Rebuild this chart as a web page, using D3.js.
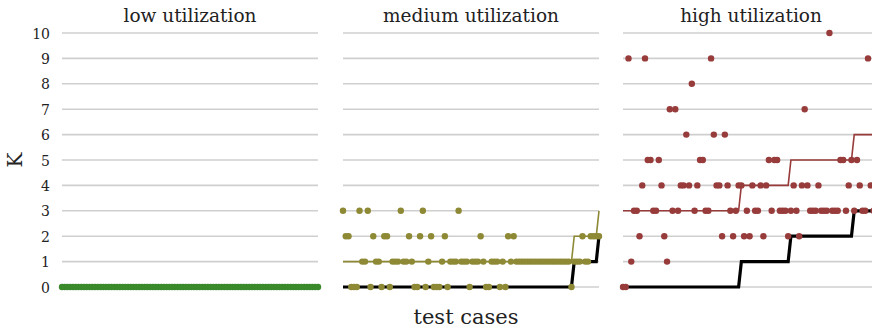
<!DOCTYPE html>
<html>
<head>
<meta charset="utf-8">
<script src="https://cdn.jsdelivr.net/npm/d3@7/dist/d3.min.js"></script>
<style>
  html, body { margin: 0; padding: 0; background: #fff; }
  svg { display: block; }
  text { font-family: "DejaVu Serif", serif; fill: #222; }
</style>
</head>
<body>
<svg id="chart" width="872" height="331"></svg>
<script>
// ---- data ----
const panelTitles = ["low utilization", "medium utilization", "high utilization"];
const yTicks = [0, 1, 2, 3, 4, 5, 6, 7, 8, 9, 10];
const seriesColors = ["#3a8a2b", "#8e8935", "#983b3b"];

// K found for each test case (dots)
const lowK = [0,0,0,0,0,0,0,0,0,0, 0,0,0,0,0,0,0,0,0,0, 0,0,0,0,0,0,0,0,0,0,
              0,0,0,0,0,0,0,0,0,0, 0,0,0,0,0,0,0,0,0,0, 0,0,0,0,0,0,0,0,0,0,
              0,0,0,0,0,0,0,0,0,0, 0,0,0,0,0,0,0,0,0,0, 0,0,0,0,0,0,0,0,0,0, 0,0,0,0];
const lowUpper = [0,0,0,0,0,0,0,0,0,0, 0,0,0,0,0,0,0,0,0,0, 0,0,0,0,0,0,0,0,0,0,
              0,0,0,0,0,0,0,0,0,0, 0,0,0,0,0,0,0,0,0,0, 0,0,0,0,0,0,0,0,0,0,
              0,0,0,0,0,0,0,0,0,0, 0,0,0,0,0,0,0,0,0,0, 0,0,0,0,0,0,0,0,0,0, 0,0,0,0];
const lowLower = [0,0,0,0,0,0,0,0,0,0, 0,0,0,0,0,0,0,0,0,0, 0,0,0,0,0,0,0,0,0,0,
              0,0,0,0,0,0,0,0,0,0, 0,0,0,0,0,0,0,0,0,0, 0,0,0,0,0,0,0,0,0,0,
              0,0,0,0,0,0,0,0,0,0, 0,0,0,0,0,0,0,0,0,0, 0,0,0,0,0,0,0,0,0,0, 0,0,0,0];

const mediumK = [3,2,2,0,0,0,3,1,1,3, 0,2,1,1,0,2,2,0,1,1, 1,3,1,1,2,1,0,0,2,3,
                 0,1,2,0,0,0,1,2,0,1, 1,1,3,1,1,1,0,1,1,1, 2,1,0,0,1,1,1,0,1,0,
                 2,1,2,1,1,1,1,1,1,1, 1,1,1,1,1,1,1,1,1,1, 1,1,1,0,1,1,1,2,1,1, 2,2,2,2];
const mediumUpper = [1,1,1,1,1,1,1,1,1,1, 1,1,1,1,1,1,1,1,1,1, 1,1,1,1,1,1,1,1,1,1,
                 1,1,1,1,1,1,1,1,1,1, 1,1,1,1,1,1,1,1,1,1, 1,1,1,1,1,1,1,1,1,1,
                 1,1,1,1,1,1,1,1,1,1, 1,1,1,1,1,1,1,1,1,1, 1,1,1,1,2,2,2,2,2,2, 2,2,2,3];
const mediumLower = [0,0,0,0,0,0,0,0,0,0, 0,0,0,0,0,0,0,0,0,0, 0,0,0,0,0,0,0,0,0,0,
                 0,0,0,0,0,0,0,0,0,0, 0,0,0,0,0,0,0,0,0,0, 0,0,0,0,0,0,0,0,0,0,
                 0,0,0,0,0,0,0,0,0,0, 0,0,0,0,0,0,0,0,0,0, 0,0,0,0,1,1,1,1,1,1, 1,1,1,2];

const highK = [0,0,9,1,3,3,2,4,9,5, 5,3,3,5,4,2,1,7,3,7, 3,4,4,6,4,8,3,4,5,5,
               3,3,9,6,4,4,2,6,4,3, 2,3,4,4,2,3,2,4,3,3, 4,2,4,5,3,5,5,3,3,3,
               2,3,4,3,2,4,7,4,3,3, 3,4,3,3,3,10,3,3,3,5, 5,3,4,5,3,5,4,3,3,9, 4,3,3,3];
const highUpper = [3,3,3,3,3,3,3,3,3,3, 3,3,3,3,3,3,3,3,3,3, 3,3,3,3,3,3,3,3,3,3,
               3,3,3,3,3,3,3,3,3,3, 3,3,3,4,4,4,4,4,4,4, 4,4,4,4,4,4,4,4,4,4,
               4,5,5,5,5,5,5,5,5,5, 5,5,5,5,5,5,5,5,5,5, 5,5,5,5,6,6,6,6,6,6, 6,6,6,6];
const highLower = [0,0,0,0,0,0,0,0,0,0, 0,0,0,0,0,0,0,0,0,0, 0,0,0,0,0,0,0,0,0,0,
               0,0,0,0,0,0,0,0,0,0, 0,0,0,1,1,1,1,1,1,1, 1,1,1,1,1,1,1,1,1,1,
               1,2,2,2,2,2,2,2,2,2, 2,2,2,2,2,2,2,2,2,2, 2,2,2,2,3,3,3,3,3,3, 3,3,3,3];

const panels = [
  { title: panelTitles[0], k: lowK, upper: lowUpper, lower: lowLower, color: seriesColors[0] },
  { title: panelTitles[1], k: mediumK, upper: mediumUpper, lower: mediumLower, color: seriesColors[1] },
  { title: panelTitles[2], k: highK, upper: highUpper, lower: highLower, color: seriesColors[2] }
];

// ---- layout ----
const svg = d3.select("#chart");
const panelLeft = [62, 343, 623];
const panelWidth = 256;
const y = d3.scaleLinear().domain([0, 10]).range([287, 33]);

// y tick labels (left panel only)
const yAxis = d3.axisLeft(y).tickValues(yTicks).tickSize(0).tickPadding(0);
const ga = svg.append("g").attr("transform", "translate(50,0)").call(yAxis);
ga.select(".domain").remove();
ga.selectAll("text")
  .style("font-family", "DejaVu Serif, serif")
  .style("font-size", "14px")
  .attr("fill", "#222")
  .attr("dy", "0.36em");

// Y label
svg.append("text")
  .attr("transform", "translate(22,160) rotate(-90)")
  .attr("text-anchor", "middle")
  .style("font-size", "20px")
  .text("K");

// X label
svg.append("text")
  .attr("x", 466).attr("y", 324)
  .attr("text-anchor", "middle")
  .style("font-size", "21px")
  .text("test cases");

panels.forEach((p, pi) => {
  const x0 = panelLeft[pi];
  const x = d3.scaleLinear().domain([0, p.k.length - 1]).range([x0, x0 + panelWidth]);
  const g = svg.append("g");

  // title
  g.append("text")
    .attr("x", x0 + panelWidth / 2).attr("y", 22)
    .attr("text-anchor", "middle")
    .style("font-size", "18.5px")
    .text(p.title);

  // gridlines
  g.selectAll("line.grid").data(yTicks).join("line")
    .attr("class", "grid")
    .attr("x1", x0).attr("x2", x0 + panelWidth)
    .attr("y1", d => y(d)).attr("y2", d => y(d))
    .attr("stroke", "#cfcfcf").attr("stroke-width", 1.6);

  const line = d3.line().x((d, i) => x(i)).y(d => y(d));

  // thin coloured line
  g.append("path").datum(p.upper)
    .attr("d", line).attr("fill", "none")
    .attr("stroke", p.color).attr("stroke-width", 1.6);

  // thick black line
  g.append("path").datum(p.lower)
    .attr("d", line).attr("fill", "none")
    .attr("stroke", "#000").attr("stroke-width", 3.2);

  // dots
  g.selectAll("circle").data(p.k).join("circle")
    .attr("cx", (d, i) => x(i)).attr("cy", d => y(d))
    .attr("r", 3.2).attr("fill", p.color);
});
</script>
</body>
</html>
